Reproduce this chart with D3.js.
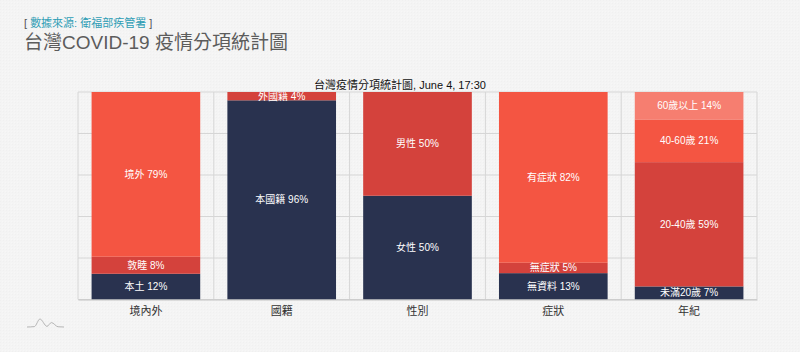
<!DOCTYPE html>
<html>
<head>
<meta charset="utf-8">
<script src="https://cdn.jsdelivr.net/npm/d3@7"></script>
<style>
  html, body { margin: 0; padding: 0; }
  body {
    width: 800px; height: 352px; overflow: hidden; position: relative;
    background-color: #f3f3f3;
    font-family: "Liberation Sans", "Noto Sans CJK TC", sans-serif;
  }
  .source { position: absolute; z-index: 2; left: 24px; top: 15px; font-size: 11px; color: #555; line-height: 16px; }
  .source span { color: #2e9db5; }
  .headline { position: absolute; z-index: 2; left: 24px; top: 30px; font-size: 19px; color: #5c5c5c; line-height: 26px; }
  text { font-family: "Liberation Sans", "Noto Sans CJK TC", sans-serif; }
</style>
</head>
<body>
<div class="source">[ <span>數據來源: 衛福部疾管署</span> ]</div>
<div class="headline">台灣COVID-19 疫情分項統計圖</div>
<div id="chart"></div>
<script>
// categories across the bottom
const categories = ["境內外", "國籍", "性別", "症狀", "年紀"];

// stacked layers, bottom to top, in percent per category
const layer1 = [12.4, 96, 50, 12.7, 6.3];
const layer2 = [8.2, 4, 50, 5, 59.9];
const layer3 = [79.4, 0, 0, 82.3, 20.6];
const layer4 = [0, 0, 0, 0, 13.2];

// segment labels, same order as the layers
const labels1 = ["本土 12%", "本國籍 96%", "女性 50%", "無資料 13%", "未滿20歲 7%"];
const labels2 = ["敦睦 8%", "外國籍 4%", "男性 50%", "無症狀 5%", "20-40歲 59%"];
const labels3 = ["境外 79%", "", "", "有症狀 82%", "40-60歲 21%"];
const labels4 = ["", "", "", "", "60歲以上 14%"];

const layerColors = ["#29324f", "#d4423c", "#f45542", "#f67e70"];
const chartTitle = "台灣疫情分項統計圖, June 4, 17:30";
const yTicks = [0, 20, 40, 60, 80, 100];

const labelRows = [labels1, labels2, labels3, labels4];
const rows = categories.map((c, i) => ({
    category: c, 0: layer1[i], 1: layer2[i], 2: layer3[i], 3: layer4[i]
}));

const margin = { top: 92, right: 43, bottom: 52.5, left: 78 },
    width = 800 - margin.left - margin.right,
    height = 352 - margin.top - margin.bottom;

const root = d3.select("#chart")
    .append("svg")
    .attr("width", 800)
    .attr("height", 352)
    .style("position", "absolute")
    .style("left", 0)
    .style("top", 0);

// faint woven texture of the page background
const defs = root.append("defs");
const weave = defs.append("pattern")
    .attr("id", "weave")
    .attr("width", 3)
    .attr("height", 3)
    .attr("patternUnits", "userSpaceOnUse");
weave.append("rect").attr("width", 3).attr("height", 3).attr("fill", "#f4f4f4");
weave.append("rect").attr("width", 1).attr("height", 1).attr("fill", "#f0f0f0");
weave.append("rect").attr("x", 2).attr("y", 2).attr("width", 1).attr("height", 1).attr("fill", "#f7f7f7");
root.append("rect").attr("width", 800).attr("height", 352).attr("fill", "url(#weave)");

defs.append("clipPath")
    .attr("id", "plot-clip")
    .append("rect")
    .attr("width", width)
    .attr("height", height);

const svg = root.append("g")
    .attr("transform", `translate(${margin.left},${margin.top})`);

const x = d3.scaleBand()
    .domain(categories)
    .range([0, width])
    .paddingInner(0.2)
    .paddingOuter(0.1);

const y = d3.scaleLinear()
    .domain([0, 100])
    .range([height, 0]);

// grid lines
svg.append("g")
    .selectAll("line")
    .data(yTicks)
    .join("line")
    .attr("x1", 0)
    .attr("x2", width)
    .attr("y1", d => y(d))
    .attr("y2", d => y(d))
    .attr("stroke", "#d6d6d6");

svg.append("g")
    .selectAll("line")
    .data(d3.range(categories.length + 1))
    .join("line")
    .attr("x1", d => d * x.step())
    .attr("x2", d => d * x.step())
    .attr("y1", 0)
    .attr("y2", height)
    .attr("stroke", "#d6d6d6");

// stacks
const stacked = d3.stack().keys([0, 1, 2, 3])(rows);

const layers = svg.append("g")
    .selectAll("g")
    .data(stacked)
    .join("g")
    .attr("fill", (d, i) => layerColors[i]);

layers.selectAll("rect")
    .data(d => d)
    .join("rect")
    .attr("x", d => x(d.data.category))
    .attr("y", d => y(d[1]))
    .attr("width", x.bandwidth())
    .attr("height", d => y(d[0]) - y(d[1]));

// segment labels, clipped to the plot like the original
svg.append("g")
    .attr("clip-path", "url(#plot-clip)")
    .selectAll("g")
    .data(stacked)
    .join("g")
    .selectAll("text")
    .data((d, i) => d.map((s, j) => ({ s, label: labelRows[i][j] })))
    .join("text")
    .attr("x", d => x(d.s.data.category) + x.bandwidth() / 2)
    .attr("y", d => y((d.s[0] + d.s[1]) / 2))
    .attr("dy", "0.35em")
    .attr("text-anchor", "middle")
    .attr("font-size", 10)
    .attr("fill", "#fff")
    .text(d => d.label);

// category axis
const xAxis = svg.append("g")
    .attr("transform", `translate(0,${height})`)
    .call(d3.axisBottom(x).tickSize(0).tickPadding(8));
xAxis.select(".domain").attr("stroke", "#c4c4c4");
xAxis.selectAll("text")
    .attr("font-size", 11)
    .attr("fill", "#333")
    .style("font-family", "'Liberation Sans', 'Noto Sans CJK TC', sans-serif");

// chart title, centred on the page rather than the plot
root.append("text")
    .attr("x", 400)
    .attr("y", margin.top - 3)
    .attr("text-anchor", "middle")
    .attr("font-size", 11)
    .attr("fill", "#111")
    .text(chartTitle);

// small mountain logo, bottom left
const logoX = d3.scaleLinear().domain([0, 10]).range([27, 64]);
const logoY = d3.scaleLinear().domain([0, 10]).range([327, 319]);
const logoProfile = [[0, 0], [2, 0.5], [3.5, 10], [5.4, 0.8], [6.6, 5.5], [8.4, 0.3], [10, 0]];
root.append("path")
    .attr("d", d3.line().x(d => logoX(d[0])).y(d => logoY(d[1])).curve(d3.curveMonotoneX)(logoProfile))
    .attr("fill", "none")
    .attr("stroke", "#b5b5b5")
    .attr("stroke-width", 1);
</script>
</body>
</html>
